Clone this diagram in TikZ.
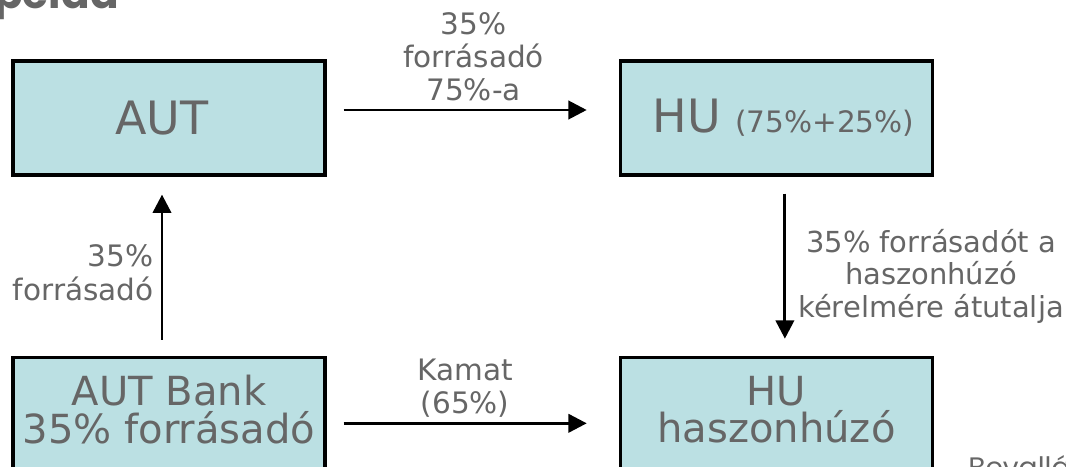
\documentclass[tikz,border=0pt]{standalone}
\usepackage{fontspec}
\setmainfont{DejaVu Sans}
\newfontfamily\slidefont{Poppins}
\usetikzlibrary{arrows.meta,positioning}
\definecolor{boxfill}{HTML}{BBE0E3}
\definecolor{txtgray}{HTML}{666666}
\newcommand{\lowpad}{\rule[-7pt]{0pt}{0pt}}
\tikzset{
  box/.style={draw, line width=2.3pt, fill=boxfill, minimum width=7.8cm, minimum height=2.85cm,
    inner sep=0pt, align=center, text=txtgray, font=\fontsize{28.5}{27}\selectfont},
  bigbox/.style={box, font=\fontsize{32.7}{36}\selectfont},
  lbl/.style={text=txtgray, font=\fontsize{21}{23.5}\selectfont, inner sep=0pt},
  flow/.style={line width=2.1pt, -{Triangle[length=13pt,width=13pt]}}
}
\begin{document}
\begin{tikzpicture}[x=0.025cm, y=-0.025cm]
\useasboundingbox (0,0) rectangle (1066,467);
\clip (0,0) rectangle (1066,467);
% title and footer, cut by the page edge
\node[anchor=base west, inner sep=0pt, text=txtgray, font=\slidefont\bfseries\fontsize{30}{36}\selectfont] (title) at (-6,9) {példa};
\node[anchor=base west, inner sep=0pt, text=txtgray, font=\slidefont\fontsize{20}{24}\selectfont] (bev) at (968,477) {Bevallás};
% boxes
\node[bigbox] (aut) at (169,118) {\hspace*{-0.35cm}AUT};
\node[bigbox, right=7.3cm of aut] (hu) {\hspace*{0.35cm}HU {\fontsize{21}{23.5}\selectfont(75\%+25\%)}};
\node[box, below=4.475cm of aut] (bank) {AUT Bank\\35\% forrásadó\lowpad};
\node[box, below=4.475cm of hu] (benef) {HU\\haszonhúzó\lowpad};
% flows
\draw[flow] ([shift={(17,-8)}]aut.east) -- ([shift={(-32,-8)}]hu.west)
  node[lbl, midway, above=0.2cm, xshift=0.21cm, align=center] (l1) {35\%\\forrásadó\\75\%-a};
\draw[flow] ([shift={(8.5,17)}]hu.south) -- ([shift={(8.5,-17)}]benef.north)
  node[lbl, midway, right=0.3cm, yshift=-0.25cm, align=center, font=\fontsize{20.6}{23}\selectfont] (l2) {35\% forrásadót a\\haszonhúzó\\kérelmére átutalja};
\draw[flow] ([shift={(-7,-16)}]bank.north) -- ([shift={(-7,18)}]aut.south)
  node[lbl, midway, left=0.175cm, yshift=-0.14cm, align=right] (l3) {35\%\\forrásadó};
\draw[flow] ([shift={(17,9)}]bank.east) -- ([shift={(-32,9)}]benef.west)
  node[lbl, midway, above=0.1cm, align=center] (l4) {Kamat\\(65\%)};
\end{tikzpicture}
\end{document}
